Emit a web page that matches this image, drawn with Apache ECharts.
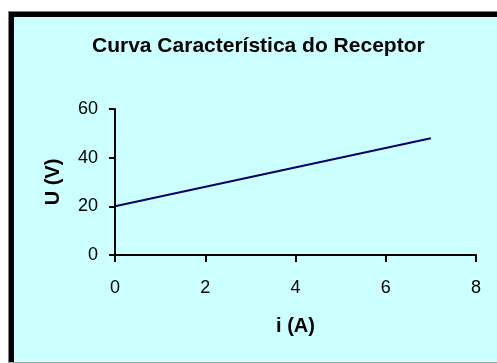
<!DOCTYPE html>
<html>
<head>
<meta charset="utf-8">
<script src="https://cdn.jsdelivr.net/npm/echarts@6/dist/echarts.min.js"></script>
<style>
html,body{margin:0;padding:0;background:#fff;}
#c{width:497px;height:363px;}
</style>
</head>
<body>
<div id="c"></div>
<script>
var titleText = 'Curva Característica do Receptor';
var xName = 'i (A)';
var yName = 'U (V)';
var iValues = [0, 7];
var uValues = [20, 48];
var xTicks = [0, 2, 4, 6, 8];
var yTicks = [0, 20, 40, 60];

var chart = echarts.init(document.getElementById('c'));
var pts = iValues.map(function (v, k) { return [v, uValues[k]]; });
var font = '"Liberation Sans", Arial, sans-serif';
chart.setOption({
  backgroundColor: '#ffffff',
  animation: false,
  graphic: [
    { type: 'rect', z: -10, silent: true, shape: { x: 8, y: 11, width: 500, height: 352 }, style: { fill: '#CCFFFF' } },
    { type: 'rect', z: -9, silent: true, shape: { x: 8, y: 11, width: 500, height: 1 }, style: { fill: '#808080' } },
    { type: 'rect', z: -9, silent: true, shape: { x: 8, y: 11, width: 1, height: 352 }, style: { fill: '#808080' } },
    { type: 'rect', z: -9, silent: true, shape: { x: 9, y: 12, width: 500, height: 5 }, style: { fill: '#000000' } },
    { type: 'rect', z: -9, silent: true, shape: { x: 9, y: 12, width: 5, height: 351 }, style: { fill: '#000000' } },
    { type: 'rect', z: -9, silent: true, shape: { x: 8, y: 362, width: 500, height: 1 }, style: { fill: '#9aa8a8' } }
  ],
  title: {
    text: titleText,
    left: 87,
    top: 31,
    textStyle: { fontFamily: font, fontSize: 21, fontWeight: 'bold', color: '#000' }
  },
  grid: { left: 115, right: 21, top: 109, bottom: 108, containLabel: false },
  xAxis: {
    type: 'value', min: 0, max: 8, interval: 2,
    name: xName, nameLocation: 'middle', nameGap: 61,
    nameTextStyle: { fontFamily: font, fontSize: 20, fontWeight: 'bold', color: '#000' },
    axisLine: { lineStyle: { color: '#000', width: 2 } },
    axisTick: { show: true, length: 7, lineStyle: { color: '#000', width: 2 } },
    axisLabel: { margin: 24, fontFamily: font, fontSize: 18, color: '#000',
      formatter: function (v) { return xTicks.indexOf(v) >= 0 ? String(v) : ''; } },
    splitLine: { show: false }
  },
  yAxis: {
    type: 'value', min: 0, max: 60, interval: 20,
    name: yName, nameLocation: 'middle', nameGap: 52, nameRotate: 90,
    nameTextStyle: { fontFamily: font, fontSize: 20, fontWeight: 'bold', color: '#000' },
    axisLine: { show: true, lineStyle: { color: '#000', width: 2 } },
    axisTick: { show: true, length: 6, lineStyle: { color: '#000', width: 2 } },
    axisLabel: { margin: 17, fontFamily: font, fontSize: 18, color: '#000',
      formatter: function (v) { return yTicks.indexOf(v) >= 0 ? String(v) : ''; } },
    splitLine: { show: false }
  },
  series: [{
    type: 'line',
    data: pts,
    symbol: 'none',
    lineStyle: { color: '#000066', width: 2 }
  }]
});
</script>
</body>
</html>
